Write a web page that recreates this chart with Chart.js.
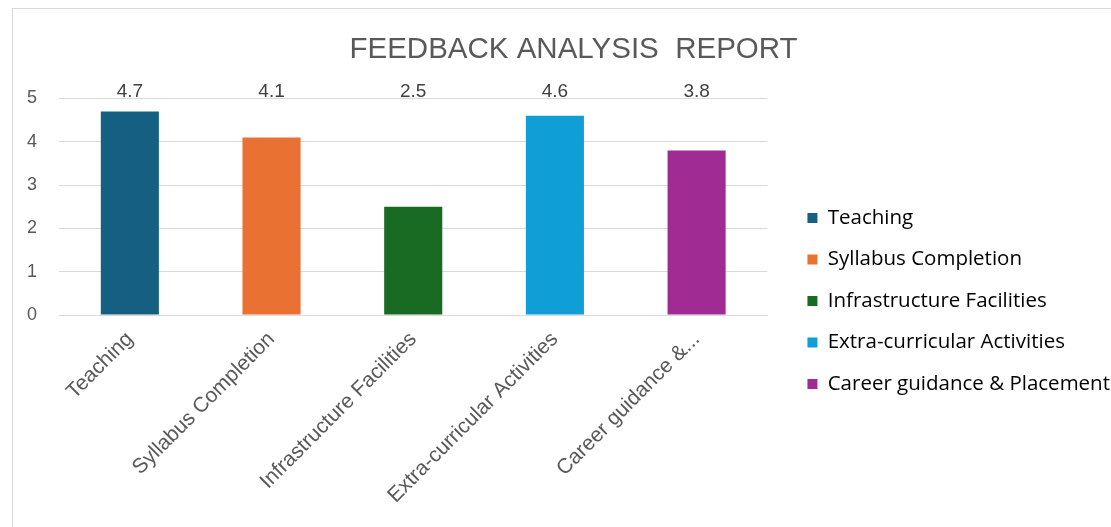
<!DOCTYPE html>
<html>
<head>
<meta charset="utf-8">
<script src="https://cdn.jsdelivr.net/npm/chart.js@4.4.1/dist/chart.umd.min.js"></script>
<style>
  html, body { margin: 0; padding: 0; background: #fff; overflow: hidden; }
  #marco {
    position: absolute; left: 12px; top: 8px;
    width: 1130px; height: 600px;
    border: 1px solid #d9d9d9;
  }
  #caja { position: absolute; left: 0; top: 0; width: 1120px; height: 584px; }
</style>
</head>
<body>
<div id="marco">
  <div id="caja"><canvas id="grafico"></canvas></div>
</div>
<script>
// Datos del grafico
const categorias = ['Teaching', 'Syllabus Completion', 'Infrastructure Facilities', 'Extra-curricular Activities', 'Career guidance & Placement'];
const etiquetasX = ['Teaching', 'Syllabus Completion', 'Infrastructure Facilities', 'Extra-curricular Activities', 'Career guidance &...'];
const puntajes = [4.7, 4.1, 2.5, 4.6, 3.8];
const colores = ['#156082', '#E97132', '#196B24', '#0F9ED5', '#A02B93'];
const ticksY = [0, 1, 2, 3, 4, 5];

const fuente = '"Liberation Sans", Arial, sans-serif';

// etiquetas de valor arriba del area del grafico
const etiquetasValor = {
  id: 'etiquetasValor',
  afterDatasetsDraw(chart) {
    const ctx = chart.ctx;
    const meta = chart.getDatasetMeta(0);
    ctx.save();
    ctx.font = '19px ' + fuente;
    ctx.fillStyle = '#404040';
    ctx.textAlign = 'center';
    ctx.textBaseline = 'alphabetic';
    meta.data.forEach((barra, i) => {
      ctx.fillText(puntajes[i].toFixed(1), barra.x, chart.chartArea.top - 1);
    });
    ctx.restore();
  }
};

const ctx = document.getElementById('grafico').getContext('2d');
new Chart(ctx, {
  type: 'bar',
  data: {
    labels: categorias,
    datasets: [{
      label: 'Puntaje',
      data: puntajes,
      backgroundColor: colores,
      borderWidth: 0,
      categoryPercentage: 1,
      barPercentage: 0.41
    }]
  },
  options: {
    responsive: true,
    maintainAspectRatio: false,
    animation: false,
    layout: { padding: { left: 14, right: 13, bottom: 0 } },
    plugins: {
      tooltip: { enabled: false },
      title: {
        display: true,
        text: 'FEEDBACK ANALYSIS  REPORT',
        color: '#595959',
        font: { family: fuente, size: 29.5, weight: 'normal' },
        padding: { top: 23, bottom: 31 }
      },
      legend: {
        position: 'right',
        align: 'center',
        maxWidth: 400,
        labels: {
          color: '#404040',
          font: { family: '"Open Sans", sans-serif', size: 20.5 },
          boxWidth: 10,
          boxHeight: 10,
          padding: 21,
          generateLabels: () => categorias.map((c, i) => ({
            text: c,
            fillStyle: colores[i],
            strokeStyle: colores[i],
            lineWidth: 0,
            hidden: false,
            index: i
          }))
        }
      }
    },
    scales: {
      x: {
        grid: { display: false },
        border: { color: '#d9d9d9' },
        ticks: {
          color: '#595959',
          padding: 4,
          font: { family: fuente, size: 21 },
          minRotation: 45,
          maxRotation: 45,
          autoSkip: false,
          callback: (v, i) => etiquetasX[i]
        },
        afterFit: (eje) => { eje.height = 278; eje.paddingLeft = 0; eje.paddingRight = 0; }
      },
      y: {
        min: 0,
        max: 5,
        afterBuildTicks: (eje) => { eje.ticks = ticksY.map(v => ({ value: v })); },
        afterFit: (eje) => { eje.width = 32; },
        grid: { color: '#d9d9d9', drawTicks: false },
        border: { display: false },
        ticks: {
          color: '#595959',
          padding: 22,
          font: { family: fuente, size: 18 }
        }
      },
      // eje vacio a la derecha para separar la leyenda
      espacio: {
        position: 'right',
        display: true,
        grid: { display: false },
        border: { display: false },
        ticks: { display: false },
        afterFit: (eje) => { eje.width = 19; }
      }
    }
  },
  plugins: [etiquetasValor]
});
</script>
</body>
</html>
